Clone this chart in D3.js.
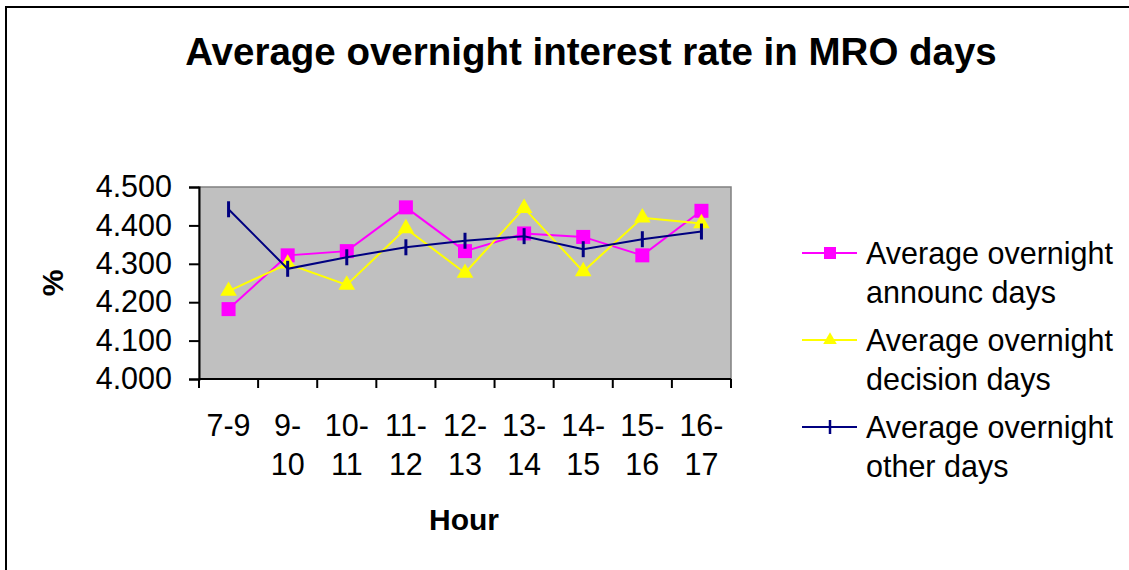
<!DOCTYPE html>
<html>
<head>
<meta charset="utf-8">
<script src="https://cdn.jsdelivr.net/npm/d3@7"></script>
<style>
  body { margin: 0; background: #fff; }
  text { font-family: "Liberation Sans", Arial, sans-serif; }
</style>
</head>
<body>
<script>
// chart data
const hours = [["7-9"], ["9-", "10"], ["10-", "11"], ["11-", "12"], ["12-", "13"],
               ["13-", "14"], ["14-", "15"], ["15-", "16"], ["16-", "17"]];
const announcDays = [4.182, 4.322, 4.333, 4.447, 4.333, 4.379, 4.370, 4.322, 4.438];
const decisionDays = [4.229, 4.300, 4.245, 4.392, 4.276, 4.445, 4.280, 4.420, 4.405];
const otherDays = [4.442, 4.287, 4.317, 4.343, 4.360, 4.372, 4.338, 4.364, 4.384];
const yTicks = [4.0, 4.1, 4.2, 4.3, 4.4, 4.5];

const seriesList = [
  {name: ["Average overnight", "announc days"], values: announcDays, color: "#ff00ff", marker: "square"},
  {name: ["Average overnight", "decision days"], values: decisionDays, color: "#ffff00", marker: "triangle"},
  {name: ["Average overnight", "other days"], values: otherDays, color: "#000080", marker: "dash"}
];

const W = 1129, H = 570;
const plot = {x: 199, y: 187, w: 532, h: 192};

let svg = d3.select("body").append("svg")
  .attr("width", W).attr("height", H);

// outer frame
svg.append("rect")
  .attr("x", 6).attr("y", 7)
  .attr("width", W + 20).attr("height", H + 20)
  .attr("fill", "#fff").attr("stroke", "#000").attr("stroke-width", 2);

svg.append("text")
  .attr("x", 591).attr("y", 65)
  .attr("text-anchor", "middle")
  .attr("font-size", "38.5px").attr("font-weight", "bold")
  .text("Average overnight interest rate in MRO days");

let xScale = d3.scaleBand().domain(d3.range(hours.length)).range([0, plot.w]);
let yScale = d3.scaleLinear().domain([4.0, 4.5]).range([plot.h, 0]);

let g = svg.append("g").attr("transform", "translate(" + plot.x + "," + plot.y + ")");

g.append("rect")
  .attr("width", plot.w).attr("height", plot.h)
  .attr("fill", "#c0c0c0").attr("stroke", "#808080").attr("stroke-width", 1.5);

// y axis
let yAxis = g.append("g")
  .call(d3.axisLeft(yScale).tickValues(yTicks).tickFormat(d3.format(".3f")).tickSize(10).tickPadding(17));
yAxis.select(".domain").attr("stroke", "#000").attr("stroke-width", 2);
yAxis.selectAll(".tick line").attr("stroke", "#000").attr("stroke-width", 2);
yAxis.selectAll("text").attr("font-size", "30.5px").attr("fill", "#000")
  .style("font-family", "'Liberation Sans', Arial, sans-serif");

// x axis, ticks on category boundaries
let xAxis = g.append("g").attr("transform", "translate(0," + plot.h + ")");
xAxis.append("line").attr("x1", 0).attr("x2", plot.w)
  .attr("stroke", "#000").attr("stroke-width", 2);
xAxis.selectAll("line.tk")
  .data(d3.range(hours.length + 1))
  .enter().append("line")
  .attr("class", "tk")
  .attr("x1", d => d < hours.length ? xScale(d) : plot.w)
  .attr("x2", d => d < hours.length ? xScale(d) : plot.w)
  .attr("y1", 0).attr("y2", 9)
  .attr("stroke", "#000").attr("stroke-width", 2);

let labels = xAxis.selectAll("text.lbl")
  .data(hours)
  .enter().append("text")
  .attr("class", "lbl")
  .attr("text-anchor", "middle")
  .attr("font-size", "30.5px");
labels.selectAll("tspan")
  .data((d, i) => d.map(s => ({s: s, i: i})))
  .enter().append("tspan")
  .attr("x", d => xScale(d.i) + xScale.bandwidth() / 2)
  .attr("y", (d, j) => 57 + j * 39)
  .text(d => d.s);

svg.append("text")
  .attr("x", 464).attr("y", 530)
  .attr("text-anchor", "middle")
  .attr("font-size", "30px").attr("font-weight", "bold")
  .text("Hour");

svg.append("text")
  .attr("transform", "translate(63,283) rotate(-90)")
  .attr("text-anchor", "middle")
  .attr("font-size", "30px").attr("font-weight", "bold")
  .text("%");

function drawMarker(sel, type, color) {
  if (type === "square") {
    sel.append("rect").attr("x", -7).attr("y", -7).attr("width", 14).attr("height", 14)
      .attr("fill", color);
  } else if (type === "triangle") {
    sel.append("path").attr("d", d3.symbol().type(d3.symbolTriangle).size(120)())
      .attr("fill", color);
  } else {
    sel.append("line").attr("x1", 0).attr("x2", 0).attr("y1", -8).attr("y2", 8)
      .attr("stroke", color).attr("stroke-width", 3);
  }
}

let line = d3.line()
  .x((d, i) => xScale(i) + xScale.bandwidth() / 2)
  .y(d => yScale(d));

seriesList.forEach(s => {
  g.append("path")
    .datum(s.values)
    .attr("d", line)
    .attr("fill", "none")
    .attr("stroke", s.color)
    .attr("stroke-width", 2);
  g.selectAll(null)
    .data(s.values)
    .enter().append("g")
    .attr("transform", (d, i) => "translate(" + (xScale(i) + xScale.bandwidth() / 2) + "," + yScale(d) + ")")
    .each(function() { drawMarker(d3.select(this), s.marker, s.color); });
});

// legend
let legend = svg.append("g").attr("transform", "translate(802,253)");
seriesList.forEach((s, i) => {
  let row = legend.append("g").attr("transform", "translate(0," + (i * 87) + ")");
  row.append("line").attr("x1", 0).attr("x2", 55)
    .attr("stroke", s.color).attr("stroke-width", 2);
  let m = row.append("g").attr("transform", "translate(28,0)");
  if (s.marker === "square") {
    m.append("rect").attr("x", -6).attr("y", -6).attr("width", 12).attr("height", 12).attr("fill", s.color);
  } else if (s.marker === "triangle") {
    m.append("path").attr("d", d3.symbol().type(d3.symbolTriangle).size(80)()).attr("fill", s.color);
  } else {
    m.append("line").attr("y1", -7).attr("y2", 7).attr("stroke", s.color).attr("stroke-width", 2.5);
  }
  row.selectAll("text")
    .data(s.name)
    .enter().append("text")
    .attr("x", 64)
    .attr("y", (d, j) => 11 + j * 39)
    .attr("font-size", "30.5px")
    .text(d => d);
});
</script>
</body>
</html>
